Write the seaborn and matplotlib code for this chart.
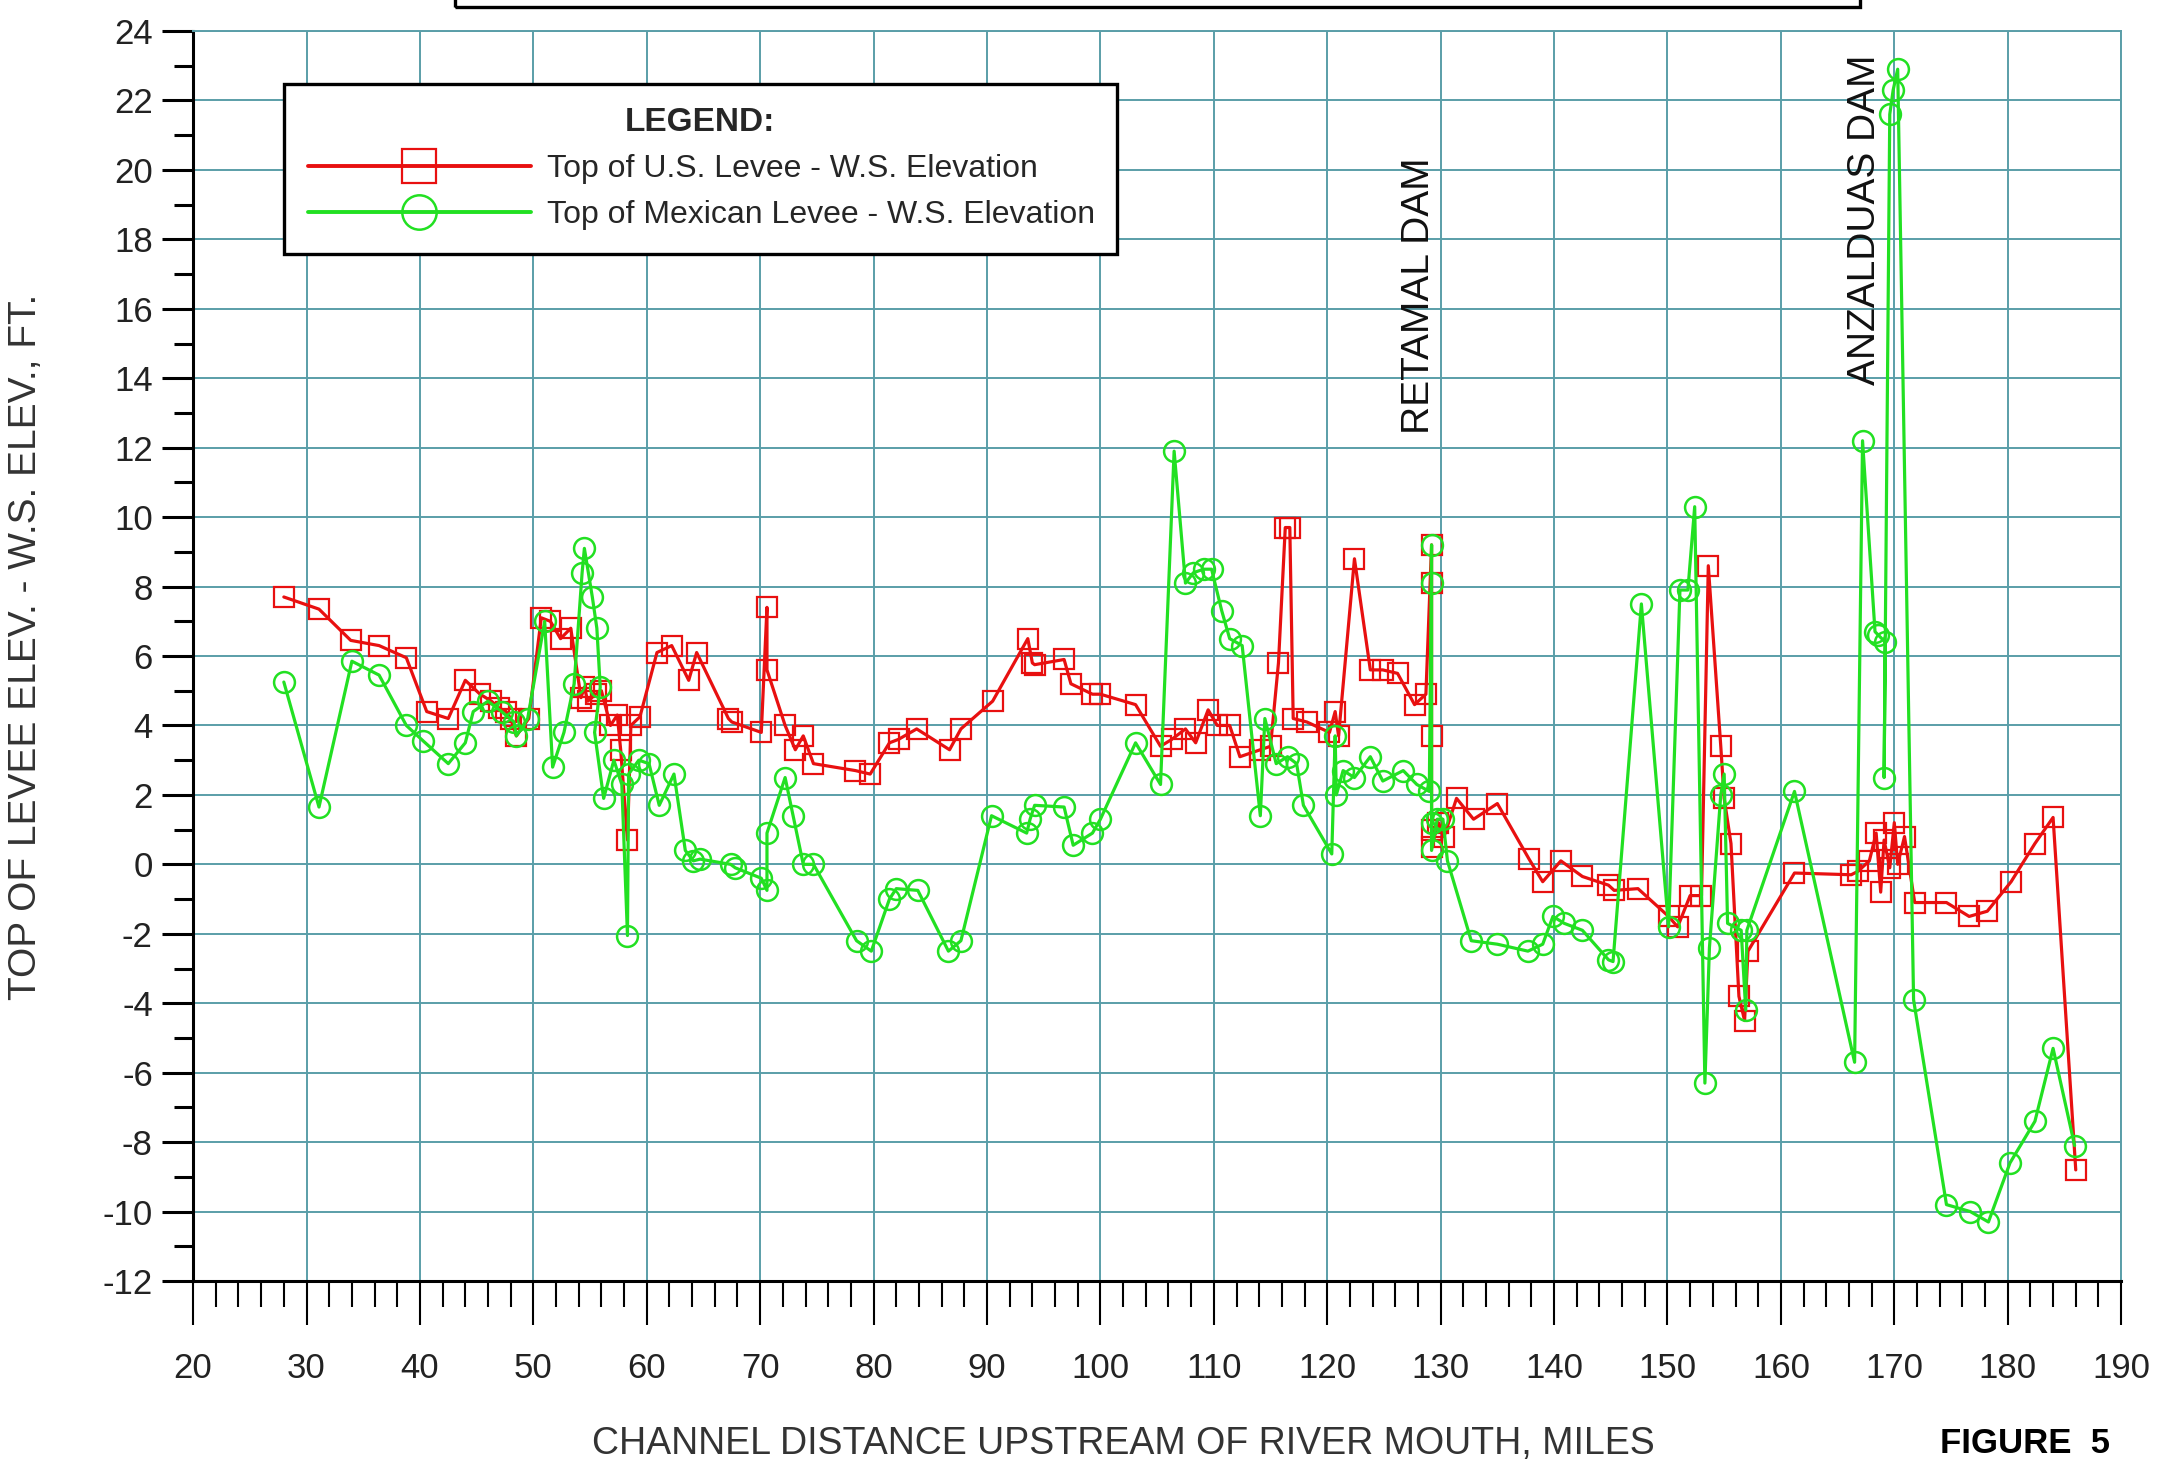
import matplotlib
matplotlib.use("Agg")
import matplotlib.pyplot as plt
from matplotlib.patches import Rectangle
from matplotlib.ticker import MultipleLocator
import seaborn as sns

# Top of U.S. levee minus water surface elevation (ft) vs river mile
us_x = [28.0, 31.1, 33.9, 36.4, 38.8, 40.6, 42.5, 44.0, 45.3, 46.3, 47.0, 47.6, 48.0,
        48.5, 49.6, 50.7, 51.5, 52.4, 53.3, 54.2, 54.5, 54.8, 55.5, 56.0, 56.8,
        57.4, 57.7, 58.3, 58.6, 59.4, 60.9, 62.2, 63.7, 64.4, 67.2, 67.5, 70.1,
        70.6, 70.6, 72.2, 73.1, 73.8, 74.7, 78.4, 79.7, 81.4, 82.2, 83.8, 86.7,
        87.7, 90.5, 93.6, 94.0, 94.2, 96.8, 97.4, 99.3, 100.0, 103.1, 105.3, 106.3,
        107.5, 108.4, 109.5, 110.3, 111.4, 112.3, 114.1, 115.0, 115.7, 116.3, 116.7,
        117.0, 118.2, 120.2, 120.7, 121.0, 122.4, 123.8, 124.9, 126.2, 127.7, 128.7,
        129.2, 129.2, 129.2, 129.2, 129.2, 129.8, 130.3, 131.4, 132.9, 135.0, 137.8,
        139.0, 140.6, 142.5, 144.8, 145.3, 147.4, 150.1, 150.9, 152.0, 153.0, 153.6,
        154.7, 155.0, 155.6, 156.3, 156.8, 157.1, 161.2, 166.2, 166.8, 167.8, 168.4,
        168.8, 169.1, 169.6, 170.0, 170.3, 170.9, 171.8, 174.6, 176.6, 178.2, 180.3,
        182.4, 184.0, 186.0]
us_y = [7.7, 7.35, 6.45, 6.3, 5.95, 4.4, 4.2, 5.3, 4.9, 4.7, 4.5, 4.4, 4.2,
        3.7, 4.2, 7.1, 7.0, 6.5, 6.8, 4.8, 5.1, 4.7, 4.9, 5.0, 4.0,
        4.3, 3.3, 0.7, 4.0, 4.25, 6.1, 6.3, 5.3, 6.1, 4.2, 4.1, 3.8,
        7.4, 5.6, 4.0, 3.3, 3.7, 2.9, 2.7, 2.6, 3.5, 3.6, 3.9, 3.3,
        3.9, 4.7, 6.5, 5.8, 5.75, 5.9, 5.2, 4.9, 4.9, 4.6, 3.4, 3.6,
        3.9, 3.5, 4.45, 4.0, 4.0, 3.1, 3.3, 3.4, 5.8, 9.7, 9.7,
        4.2, 4.1, 3.8, 4.4, 3.7, 8.8, 5.6, 5.6, 5.5, 4.6, 4.9,
        9.2, 8.1, 3.7, 1.0, 0.5, 1.2, 0.8, 1.9, 1.3, 1.75, 0.15,
        -0.5, 0.1, -0.35, -0.6, -0.75, -0.7, -1.5, -1.8, -0.9, -0.9, 8.6,
        3.4, 1.9, 0.6, -3.8, -4.5, -2.5, -0.25, -0.3, -0.2, 0.1, 0.9,
        -0.8, 0.7, -0.1, 1.2, 0.0, 0.8, -1.1, -1.1, -1.5, -1.35, -0.5,
        0.6, 1.35, -8.8]

# Top of Mexican levee minus water surface elevation (ft) vs river mile
mx_x = [28.0, 31.1, 34.0, 36.4, 38.8, 40.3, 42.5, 44.0, 44.7, 46.0, 47.2, 48.3,
        48.5, 49.5, 51.0, 51.7, 52.7, 53.6, 54.3, 54.5, 55.2, 55.6, 55.9, 55.4,
        56.2, 57.1, 57.8, 58.3, 58.4, 59.3, 60.2, 61.1, 62.4, 63.4, 64.1, 64.7,
        67.4, 67.8, 70.1, 70.6, 70.6, 72.2, 72.9, 73.8, 74.7, 78.5, 79.8, 81.4,
        82.0, 83.9, 86.6, 87.7, 90.4, 93.5, 93.8, 94.2, 96.8, 97.6, 99.3, 100.0,
        103.1, 105.3, 106.5, 107.5, 108.2, 109.1, 109.8, 110.7, 111.4, 112.5,
        114.1, 114.5, 115.5, 116.5, 117.3, 117.9, 120.4, 120.7, 120.8, 121.4,
        122.4, 123.8, 124.9, 126.7, 127.9, 129.0, 129.2, 129.2, 129.2, 129.2,
        129.7, 130.2, 130.6, 132.7, 135.0, 137.7, 139.0, 139.9, 140.9, 142.5,
        144.8, 145.2, 147.7, 150.1, 151.1, 151.8, 152.4, 153.3, 153.7, 154.7,
        155.0, 155.3, 156.5, 156.9, 157.0, 161.2, 166.5, 167.2, 168.3, 168.6,
        169.2, 169.1, 169.6, 169.9, 170.3, 171.7, 174.6, 176.7, 178.3, 180.2,
        182.4, 184.0, 185.9]
mx_y = [5.25, 1.65, 5.85, 5.45, 4.0, 3.55, 2.9, 3.5, 4.4, 4.7, 4.4, 4.1,
        3.7, 4.2, 7.0, 2.8, 3.8, 5.2, 8.4, 9.1, 7.7, 6.8, 5.1, 3.8,
        1.9, 3.0, 2.3, -2.05, 2.6, 3.0, 2.9, 1.7, 2.6, 0.4, 0.1, 0.15,
        0.0, -0.1, -0.4, -0.75, 0.9, 2.5, 1.4, 0.0, 0.0, -2.2, -2.5, -1.0,
        -0.7, -0.75, -2.5, -2.2, 1.4, 0.9, 1.3, 1.7, 1.65, 0.55, 0.9, 1.3,
        3.5, 2.3, 11.9, 8.1, 8.4, 8.5, 8.5, 7.3, 6.5, 6.3,
        1.4, 4.2, 2.9, 3.1, 2.9, 1.7, 0.3, 3.7, 2.0, 2.7,
        2.5, 3.1, 2.4, 2.7, 2.3, 2.1, 9.2, 8.1, 1.2, 0.4,
        1.3, 1.3, 0.1, -2.2, -2.3, -2.5, -2.3, -1.5, -1.7, -1.9,
        -2.75, -2.8, 7.5, -1.8, 7.9, 7.9, 10.3, -6.3, -2.4, 2.0,
        2.6, -1.7, -1.9, -4.2, -1.9, 2.1, -5.7, 12.2, 6.7, 6.6,
        6.4, 2.5, 21.6, 22.3, 22.9, -3.9, -9.8, -10.0, -10.3, -8.6,
        -7.4, -5.3, -8.1]

us_label = "Top of U.S. Levee - W.S. Elevation"
mx_label = "Top of Mexican Levee - W.S. Elevation"
dam_names = ["RETAMAL DAM", "ANZALDUAS DAM"]
dam_miles = [128.1, 167.4]
dam_bottom = [12.4, 13.8]

red = "#e81010"
green = "#22e022"
grid_c = "#5a9ea8"

sns.set_style("white")
plt.rcParams["font.family"] = ["Liberation Sans", "DejaVu Sans"]
plt.rcParams["axes.unicode_minus"] = False

fig = plt.figure(figsize=(21.6, 14.63), dpi=100)
ax = fig.add_axes([0.0894, 0.1244, 0.8926, 0.8544])

sns.lineplot(x=us_x, y=us_y, sort=False, estimator=None, ax=ax, color=red,
             lw=2.3, marker="s", ms=15, mfc="none", mec=red, mew=1.6,
             label=us_label, zorder=3)
sns.lineplot(x=mx_x, y=mx_y, sort=False, estimator=None, ax=ax, color=green,
             lw=2.3, marker="o", ms=15, mfc="none", mec=green, mew=1.8,
             label=mx_label, zorder=4)

ax.set_xlim(20, 190)
ax.set_ylim(-12, 24)
ax.xaxis.set_major_locator(MultipleLocator(10))
ax.xaxis.set_minor_locator(MultipleLocator(2))
ax.yaxis.set_major_locator(MultipleLocator(2))
ax.yaxis.set_minor_locator(MultipleLocator(1))
ax.grid(True, which="major", color=grid_c, lw=1.4)
ax.set_axisbelow(True)

ax.tick_params(axis="x", which="both", bottom=True, top=False)
ax.tick_params(axis="y", which="both", left=True, right=False)
ax.tick_params(axis="x", which="major", direction="out", length=32, width=1.5,
               color="black", labelsize=25, pad=19, labelcolor="#222222")
ax.tick_params(axis="x", which="minor", direction="out", length=19, width=1.5,
               color="black")
ax.tick_params(axis="y", which="major", direction="out", length=22, width=2.2,
               color="black", labelsize=25, pad=7, labelcolor="#222222")
ax.tick_params(axis="y", which="minor", direction="out", length=14, width=2.2,
               color="black")

for side in ["left", "bottom"]:
    ax.spines[side].set_color("black")
    ax.spines[side].set_linewidth(2.2)
for side in ["top", "right"]:
    ax.spines[side].set_color(grid_c)
    ax.spines[side].set_linewidth(1.4)

ax.set_xlabel("")
ax.set_ylabel("")

handles, labels = ax.get_legend_handles_labels()
leg = ax.legend(handles, labels, title="LEGEND:", loc="upper left",
                bbox_to_anchor=(0.047, 0.826, 0.432, 0.132), mode="expand",
                borderaxespad=0, fontsize=23, handlelength=7.0,
                handletextpad=0.5, labelspacing=0.5, borderpad=0.75,
                markerscale=1.65, frameon=True, fancybox=False, framealpha=1,
                title_fontproperties={"weight": "bold", "size": 24})
leg.get_frame().set_edgecolor("black")
leg.get_frame().set_linewidth(2.4)
for line in leg.get_lines():
    line.set_linewidth(2.8)

for name, mile, base in zip(dam_names, dam_miles, dam_bottom):
    ax.text(mile, base, name, rotation=90, ha="center", va="bottom",
            fontsize=28, color="#111111")

fig.text(0.012, 0.558, "TOP OF LEVEE ELEV. - W.S. ELEV., FT.", rotation=90,
         ha="center", va="center", fontsize=28, color="#333333")
fig.text(0.52, 0.013, "CHANNEL DISTANCE UPSTREAM OF RIVER MOUTH, MILES",
         ha="center", va="center", fontsize=27, color="#333333")
fig.text(0.9375, 0.013, "FIGURE  5", ha="center", va="center", fontsize=25,
         fontweight="bold", color="black")

# empty title box, mostly cut off by the top edge
fig.patches.append(Rectangle((0.2105, 0.9952), 0.6505, 0.1, transform=fig.transFigure,
                             fill=False, edgecolor="black", lw=2.4, clip_on=False))

fig.savefig("out.png", dpi=100)
